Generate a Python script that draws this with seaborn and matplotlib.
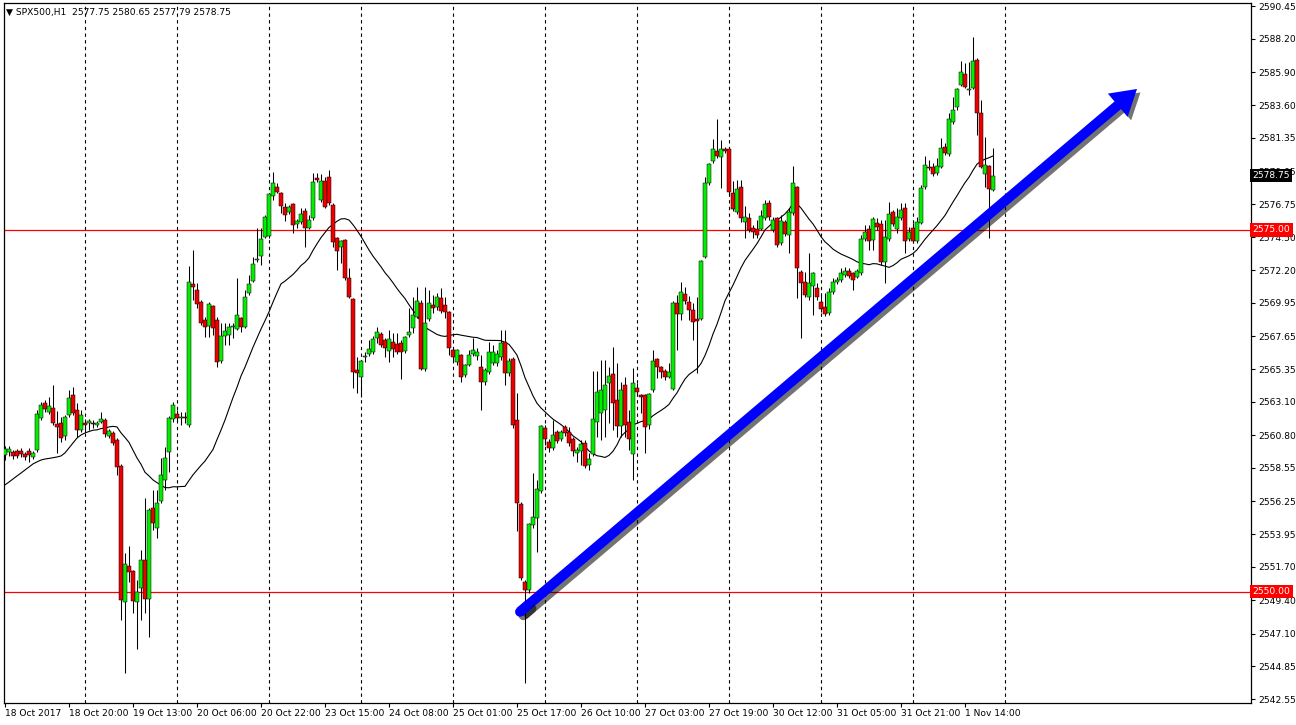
import numpy as np
import pandas as pd
import matplotlib
matplotlib.use('Agg')
from matplotlib import pyplot as plt
import matplotlib.transforms as mtransforms
import matplotlib.patheffects as pe
import seaborn as sns

# %% Data (hourly SPX500 candles)
opens = [
    2559.44, 2559.65, 2559.65, 2559.72, 2559.72, 2559.51, 2559.72, 2559.30, 2559.79, 2562.00,  # 0
    2563.03, 2562.41, 2562.69, 2561.58, 2561.65, 2560.75, 2562.20, 2563.59, 2562.55, 2561.17,  # 10
    2561.65, 2561.65, 2561.65, 2561.51, 2561.72, 2561.86, 2560.75, 2560.96, 2560.48, 2558.68,  # 20
    2549.28, 2551.77, 2551.42, 2549.28, 2550.25, 2552.18, 2549.49, 2555.78, 2554.40, 2556.26,  # 30
    2557.71, 2559.65, 2561.93, 2562.27, 2562.00, 2562.07, 2561.51, 2571.26, 2570.84, 2570.01,  # 40
    2568.77, 2568.35, 2569.74, 2568.77, 2565.93, 2567.66, 2567.73, 2568.28, 2568.15, 2568.91,  # 50
    2568.28, 2570.63, 2571.46, 2572.91, 2573.19, 2574.50, 2574.57, 2577.34, 2577.96, 2577.54,  # 60
    2576.58, 2576.23, 2576.78, 2575.40, 2575.54, 2576.30, 2575.13, 2575.82, 2578.58, 2577.06,  # 70
    2578.37, 2578.65, 2576.72, 2574.43, 2573.81, 2574.30, 2571.67, 2570.22, 2565.31, 2564.83,  # 80
    2566.21, 2566.42, 2566.56, 2567.52, 2567.80, 2567.39, 2566.63, 2567.25, 2567.11, 2567.18,  # 90
    2566.63, 2567.73, 2568.22, 2568.98, 2569.94, 2565.38, 2568.84, 2569.80, 2569.67, 2570.29,  # 100
    2569.80, 2569.32, 2566.70, 2565.87, 2566.35, 2564.97, 2565.66, 2566.42, 2566.28, 2565.52,  # 110
    2564.48, 2565.17, 2565.80, 2565.80, 2566.21, 2567.25, 2565.10, 2566.07, 2561.86, 2556.05,  # 120
    2550.66, 2550.11, 2554.60, 2555.09, 2556.95, 2561.31, 2560.34, 2559.92, 2561.03, 2560.54,  # 130
    2561.37, 2561.03, 2560.54, 2559.58, 2559.72, 2560.27, 2558.75, 2559.51, 2561.72, 2562.34,  # 140
    2562.55, 2564.41, 2565.04, 2563.24, 2561.44, 2564.28, 2561.72, 2559.51, 2564.07, 2563.59,  # 150
    2563.59, 2561.51, 2563.93, 2566.07, 2565.52, 2565.24, 2564.83, 2564.00, 2569.94, 2569.18,  # 160
    2570.56, 2570.01, 2569.46, 2568.84, 2568.84, 2573.12, 2578.23, 2579.76, 2580.45, 2580.03,  # 170
    2580.58, 2580.58, 2577.54, 2576.23, 2577.96, 2575.54, 2575.82, 2575.13, 2575.06, 2575.06,  # 180
    2575.82, 2576.85, 2574.99, 2575.82, 2574.09, 2575.54, 2574.64, 2576.16, 2577.96, 2572.08,  # 190
    2571.39, 2570.36, 2571.12, 2570.98, 2570.01, 2569.67, 2569.25, 2570.70, 2571.39, 2571.53,  # 200
    2571.88, 2572.15, 2572.02, 2571.74, 2572.02, 2574.37, 2575.06, 2574.30, 2575.47, 2575.40,  # 210
    2572.78, 2574.37, 2576.23, 2575.06, 2575.82, 2576.51, 2574.37, 2575.13, 2574.23, 2575.47,  # 220
    2577.96, 2579.34, 2579.34, 2578.93, 2579.34, 2580.72, 2580.24, 2582.45, 2583.49, 2585.01,  # 230
    2585.77, 2584.66, 2584.80, 2586.73, 2583.07, 2578.86, 2579.41, 2577.75,                    # 240
]
highs = [
    2560.06, 2560.06, 2559.78, 2559.85, 2559.92, 2559.65, 2559.92, 2559.72, 2562.55, 2563.10,
    2563.24, 2563.45, 2564.28, 2562.48, 2562.07, 2562.20, 2563.93, 2564.14, 2563.03, 2562.55,
    2561.93, 2561.93, 2561.86, 2561.79, 2562.41, 2562.00, 2561.24, 2561.10, 2560.61, 2558.82,
    2552.67, 2553.15, 2551.49, 2550.80, 2552.87, 2556.47, 2555.78, 2557.02, 2557.02, 2559.23,
    2559.99, 2562.13, 2563.10, 2562.55, 2562.41, 2562.41, 2572.50, 2573.61, 2571.32, 2570.15,
    2568.98, 2570.01, 2569.80, 2568.98, 2568.56, 2568.56, 2568.56, 2568.56, 2571.67, 2568.98,
    2570.84, 2571.88, 2573.12, 2575.13, 2575.13, 2576.02, 2577.54, 2578.99, 2578.23, 2577.61,
    2576.85, 2576.72, 2576.85, 2575.75, 2576.51, 2576.51, 2576.02, 2578.93, 2578.93, 2578.86,
    2578.65, 2579.13, 2576.85, 2574.50, 2574.30, 2574.37, 2572.36, 2570.29, 2566.21, 2566.00,
    2566.56, 2567.39, 2567.66, 2568.28, 2567.94, 2567.52, 2568.08, 2567.87, 2567.87, 2567.39,
    2567.66, 2569.60, 2570.36, 2571.05, 2570.15, 2571.05, 2570.84, 2570.50, 2570.63, 2570.98,
    2570.36, 2569.39, 2566.83, 2566.76, 2566.42, 2565.73, 2566.70, 2567.52, 2566.83, 2566.35,
    2565.45, 2567.25, 2567.04, 2566.70, 2568.08, 2568.08, 2566.14, 2566.21, 2563.72, 2556.19,
    2550.80, 2554.74, 2558.20, 2557.71, 2561.51, 2561.51, 2560.54, 2561.86, 2561.17, 2561.17,
    2561.51, 2561.37, 2560.68, 2559.99, 2560.48, 2560.48, 2559.58, 2565.24, 2565.24, 2566.00,
    2566.00, 2565.52, 2566.90, 2565.80, 2564.48, 2564.83, 2562.55, 2565.45, 2564.41, 2563.65,
    2563.65, 2563.72, 2566.70, 2566.14, 2565.59, 2565.38, 2565.80, 2570.08, 2570.50, 2571.39,
    2571.05, 2570.43, 2569.94, 2570.36, 2572.91, 2578.65, 2579.62, 2581.28, 2582.66, 2581.21,
    2580.72, 2580.72, 2578.37, 2578.44, 2578.44, 2576.65, 2576.16, 2575.33, 2575.68, 2576.37,
    2577.06, 2577.06, 2575.89, 2575.89, 2576.02, 2575.68, 2576.51, 2579.41, 2578.03, 2572.22,
    2572.08, 2573.40, 2572.08, 2571.32, 2570.63, 2570.63, 2570.98, 2571.67, 2571.74, 2572.36,
    2572.43, 2572.36, 2572.08, 2572.29, 2574.64, 2575.33, 2575.33, 2575.89, 2575.82, 2575.68,
    2575.68, 2576.92, 2576.37, 2576.51, 2576.85, 2576.85, 2575.19, 2575.47, 2575.89, 2578.10,
    2580.10, 2579.82, 2579.62, 2579.96, 2581.34, 2581.00, 2583.07, 2584.18, 2584.80, 2586.67,
    2586.53, 2586.60, 2588.32, 2586.87, 2583.97, 2581.41, 2579.48, 2580.65,
]
lows = [
    2559.09, 2559.37, 2559.16, 2559.23, 2559.30, 2559.09, 2558.96, 2559.16, 2559.65, 2561.86,
    2562.41, 2562.27, 2561.51, 2559.58, 2560.34, 2560.48, 2562.07, 2562.20, 2560.68, 2561.03,
    2561.03, 2561.17, 2561.31, 2561.37, 2561.65, 2560.68, 2560.61, 2560.13, 2558.06, 2548.04,
    2544.38, 2550.66, 2548.52, 2546.04, 2548.04, 2548.52, 2546.86, 2554.26, 2553.70, 2556.12,
    2557.02, 2558.26, 2561.72, 2561.86, 2561.51, 2561.65, 2561.37, 2570.15, 2569.60, 2568.42,
    2567.59, 2567.59, 2567.73, 2565.52, 2565.80, 2567.04, 2567.04, 2567.52, 2568.08, 2567.94,
    2568.22, 2570.50, 2571.39, 2572.78, 2572.57, 2574.43, 2574.43, 2577.06, 2577.54, 2576.16,
    2575.61, 2576.09, 2574.78, 2575.13, 2575.40, 2573.81, 2575.06, 2575.68, 2578.30, 2576.92,
    2576.51, 2576.72, 2573.81, 2572.22, 2572.71, 2571.53, 2570.29, 2564.07, 2563.72, 2563.45,
    2565.87, 2566.28, 2566.42, 2567.18, 2566.90, 2566.21, 2565.87, 2566.21, 2566.42, 2564.69,
    2566.49, 2567.59, 2567.87, 2568.91, 2565.31, 2565.24, 2568.70, 2569.25, 2569.46, 2569.25,
    2568.91, 2566.35, 2565.87, 2565.66, 2564.48, 2564.83, 2565.59, 2566.28, 2566.00, 2562.55,
    2564.28, 2565.04, 2565.66, 2565.59, 2566.00, 2564.28, 2564.90, 2561.31, 2554.19, 2550.80,
    2543.69, 2549.90, 2554.40, 2552.74, 2556.81, 2560.13, 2559.65, 2559.78, 2560.27, 2560.41,
    2560.75, 2560.06, 2559.37, 2558.96, 2558.75, 2558.54, 2558.40, 2559.37, 2560.68, 2560.48,
    2560.68, 2561.65, 2561.17, 2560.68, 2560.68, 2560.68, 2559.78, 2557.71, 2563.59, 2562.34,
    2559.58, 2561.24, 2563.79, 2564.76, 2564.76, 2564.62, 2564.76, 2563.93, 2566.70, 2568.77,
    2569.87, 2568.77, 2567.39, 2565.10, 2568.77, 2573.05, 2578.10, 2579.62, 2579.96, 2577.89,
    2580.31, 2577.47, 2576.30, 2576.09, 2575.54, 2574.43, 2574.85, 2574.43, 2574.43, 2574.99,
    2575.68, 2575.68, 2574.85, 2573.81, 2573.95, 2574.57, 2573.40, 2576.02, 2570.29, 2567.52,
    2570.36, 2570.15, 2569.11, 2570.15, 2569.32, 2569.04, 2569.11, 2570.56, 2571.26, 2571.39,
    2571.74, 2571.67, 2570.84, 2571.67, 2571.88, 2574.23, 2573.61, 2573.61, 2574.99, 2572.57,
    2571.32, 2574.23, 2575.26, 2574.78, 2575.68, 2573.40, 2574.23, 2574.09, 2574.09, 2575.40,
    2577.82, 2579.13, 2578.72, 2578.79, 2579.27, 2580.17, 2580.10, 2582.31, 2583.28, 2584.94,
    2584.80, 2584.32, 2584.73, 2581.55, 2579.27, 2577.96, 2574.43, 2577.65,
]
closes = [
    2559.85, 2559.85, 2559.37, 2559.37, 2559.51, 2559.30, 2559.44, 2559.58, 2562.27, 2562.89,
    2562.62, 2562.83, 2561.65, 2561.37, 2560.61, 2562.07, 2563.38, 2562.34, 2561.17, 2562.20,
    2561.51, 2561.79, 2561.58, 2561.65, 2561.93, 2560.89, 2561.10, 2560.27, 2558.61, 2549.42,
    2551.91, 2551.35, 2549.35, 2549.97, 2552.18, 2549.49, 2555.64, 2554.74, 2556.12, 2558.03,
    2559.23, 2562.00, 2562.89, 2562.00, 2562.07, 2562.00, 2571.39, 2571.05, 2569.87, 2568.56,
    2568.28, 2569.87, 2568.22, 2565.87, 2567.66, 2568.01, 2568.28, 2568.35, 2569.11, 2568.28,
    2570.36, 2571.26, 2572.64, 2572.98, 2574.37, 2575.89, 2577.47, 2578.23, 2577.61, 2576.65,
    2576.02, 2576.58, 2575.33, 2575.61, 2576.09, 2575.13, 2575.68, 2578.30, 2578.44, 2578.37,
    2576.58, 2576.85, 2574.16, 2573.54, 2574.23, 2571.67, 2570.36, 2565.17, 2565.10, 2565.93,
    2566.28, 2566.76, 2567.46, 2567.94, 2567.04, 2566.83, 2567.46, 2566.76, 2566.56, 2566.56,
    2567.59, 2567.94, 2569.11, 2570.08, 2565.38, 2568.56, 2569.94, 2569.60, 2570.36, 2569.39,
    2569.32, 2566.83, 2566.21, 2566.70, 2564.83, 2565.66, 2566.35, 2566.70, 2566.56, 2564.48,
    2565.31, 2566.56, 2566.56, 2566.42, 2567.18, 2565.10, 2565.93, 2561.51, 2556.12, 2550.94,
    2550.11, 2554.67, 2555.15, 2557.09, 2561.44, 2560.54, 2559.92, 2560.82, 2560.41, 2561.03,
    2560.96, 2560.27, 2559.72, 2559.78, 2560.20, 2558.68, 2559.16, 2561.93, 2563.79, 2563.93,
    2564.28, 2564.90, 2563.03, 2561.44, 2563.93, 2561.51, 2560.54, 2564.41, 2563.79, 2563.45,
    2561.37, 2563.65, 2565.93, 2565.52, 2565.17, 2564.83, 2565.17, 2569.94, 2569.18, 2570.70,
    2570.08, 2569.46, 2568.63, 2568.70, 2572.85, 2578.23, 2579.55, 2580.58, 2580.10, 2580.58,
    2580.45, 2577.61, 2576.44, 2577.82, 2575.82, 2575.89, 2574.99, 2574.85, 2574.64, 2575.95,
    2576.78, 2575.89, 2575.68, 2573.95, 2575.61, 2574.71, 2576.23, 2578.23, 2572.36, 2571.32,
    2570.50, 2571.32, 2572.02, 2570.36, 2569.53, 2569.18, 2570.70, 2571.39, 2571.53, 2572.02,
    2572.15, 2571.81, 2571.53, 2572.15, 2574.37, 2574.85, 2574.23, 2575.75, 2575.19, 2572.78,
    2574.50, 2576.09, 2575.40, 2575.89, 2576.37, 2574.23, 2574.85, 2574.23, 2575.54, 2577.89,
    2579.48, 2579.27, 2578.86, 2579.41, 2580.65, 2580.31, 2582.66, 2583.28, 2584.73, 2585.91,
    2584.87, 2584.73, 2586.67, 2583.07, 2579.34, 2579.48, 2577.82, 2578.75,
]
# moving average for the first bars (its history lies left of the chart)
ma_lead = [2557.37, 2557.57, 2557.78, 2557.99, 2558.19, 2558.40, 2558.61, 2558.82,
           2558.96, 2559.09, 2559.16, 2559.20, 2559.25, 2559.30, 2559.37, 2559.58,
           2559.92, 2560.27, 2560.61, 2560.82, 2560.96, 2561.06, 2561.15]
ma_period = 24

price_ticks = [2590.45, 2588.20, 2585.90, 2583.60, 2581.35, 2579.05, 2576.75, 2574.50,
               2572.20, 2569.95, 2567.65, 2565.35, 2563.10, 2560.80, 2558.55, 2556.25,
               2553.95, 2551.70, 2549.40, 2547.10, 2544.85, 2542.55]
time_labels = ['18 Oct 2017', '18 Oct 20:00', '19 Oct 13:00', '20 Oct 06:00', '20 Oct 22:00',
               '23 Oct 15:00', '24 Oct 08:00', '25 Oct 01:00', '25 Oct 17:00', '26 Oct 10:00',
               '27 Oct 03:00', '27 Oct 19:00', '30 Oct 12:00', '31 Oct 05:00', '31 Oct 21:00',
               '1 Nov 14:00']
label_step = 16
first_day_break = 20
bars_per_day = 23
levels = [2575.00, 2550.00]
last_price = 2578.75
header = '\u25BC SPX500,H1  2577.75 2580.65 2577.79 2578.75'
arrow_tail = (128.75, 2548.60)
arrow_tip = (283.0, 2584.73)

# %% Frame
df = pd.DataFrame({'open': opens, 'high': highs, 'low': lows, 'close': closes})
df['bar'] = np.arange(len(df))
df['up'] = df['close'] >= df['open']
df['ma'] = df['close'].rolling(ma_period).mean()
df.loc[:len(ma_lead) - 1, 'ma'] = ma_lead

sns.set_theme(style='white')
plt.rcParams['font.family'] = ['DejaVu Sans']

W, H = 1296, 725
fig = plt.figure(figsize=(W / 100, H / 100), dpi=100)
fig.patch.set_facecolor('white')
ax = fig.add_axes([4 / W, 22 / H, 1247 / W, 700 / H])
ax.set_facecolor('white')

# day separators
for b in range(first_day_break, 260, bars_per_day):
    ax.axvline(b, color='black', lw=0.8, ls=(0, (3, 3)), zorder=1)

for lv in levels:
    ax.axhline(lv, color='red', lw=0.9, zorder=1.5)

# wicks + bodies
ax.vlines(df['bar'], df['low'], df['high'], color='black', lw=0.75, zorder=2)
body_lo = df[['open', 'close']].min(axis=1)
body_h = (df['close'] - df['open']).abs().clip(lower=0.03)
ax.bar(df['bar'], body_h, bottom=body_lo, width=0.8,
       color=np.where(df['up'], '#00ee00', '#ee0000'),
       edgecolor='black', linewidth=0.35, zorder=3)

sns.lineplot(data=df, x='bar', y='ma', color='black', lw=0.8, ax=ax, zorder=2.5)

# trend arrow
shadow = [pe.SimplePatchShadow(offset=(2.5, -2.5), shadow_rgbFace='black', alpha=0.55), pe.Normal()]
ax.annotate('', xy=arrow_tip, xytext=arrow_tail, xycoords='data', zorder=6,
            arrowprops=dict(arrowstyle='simple,head_length=1.65,head_width=2.0,tail_width=0.65',
                            mutation_scale=11, color='#0000ff', lw=0, shrinkA=0, shrinkB=0,
                            path_effects=shadow))
# rounded tail end
ax.plot([arrow_tail[0], arrow_tail[0] + 2], [arrow_tail[1], arrow_tail[1] + 0.47],
        color='#0000ff', lw=7.1, solid_capstyle='round', zorder=6,
        path_effects=[pe.SimpleLineShadow(offset=(2.5, -2.5), shadow_color='black', alpha=0.55),
                      pe.Normal()])

ax.set_xlim(-0.25, 311.5)
ax.set_ylim(2542.30, 2590.67)
ax.set_xlabel('')
ax.set_ylabel('')

# axes / ticks
ax.yaxis.tick_right()
ax.set_yticks(price_ticks)
ax.set_yticklabels(['{:.2f}'.format(v) for v in price_ticks])
ax.tick_params(axis='y', direction='out', length=3, width=0.8, pad=2, labelsize=6.6,
               colors='black', right=True, left=False)
ax.set_xticks(np.arange(len(time_labels)) * label_step)
ax.set_xticklabels(time_labels, ha='left')
ax.tick_params(axis='x', direction='out', length=3, width=0.8, pad=1.5, labelsize=6.6,
               colors='black', bottom=True)
for sp in ax.spines.values():
    sp.set_color('black')
    sp.set_linewidth(0.9)

# price boxes on the scale
trans = mtransforms.blended_transform_factory(ax.transAxes, ax.transData)
ax.text(1.0012, last_price, '{:.2f}'.format(last_price), transform=trans, color='white',
        fontsize=6.6, va='center', ha='left', clip_on=False, zorder=10,
        bbox=dict(boxstyle='square,pad=0.25', fc='black', ec='none'))
for lv in levels:
    ax.text(1.0012, lv, '{:.2f}'.format(lv), transform=trans, color='white',
            fontsize=6.6, va='center', ha='left', clip_on=False, zorder=10,
            bbox=dict(boxstyle='square,pad=0.25', fc='#ff0000', ec='none'))

fig.text(6 / W, 1 - 12 / H, header, fontsize=6.6, va='center', ha='left', color='black')

fig.savefig('out.png', dpi=100, facecolor='white')
